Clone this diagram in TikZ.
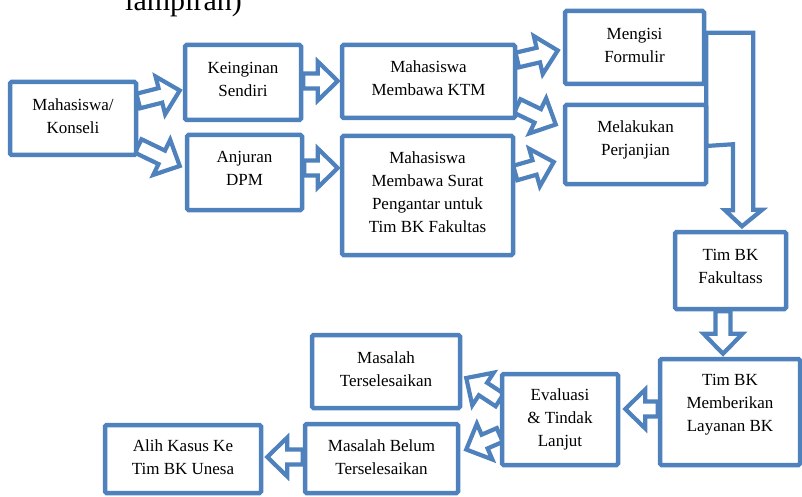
\documentclass[tikz,border=0pt]{standalone}
\usepackage{fontspec}
\setmainfont{Liberation Serif}
\usetikzlibrary{calc,backgrounds}
\definecolor{bblue}{RGB}{79,129,189}
\newcommand\arrsw{7.5pt}
\newcommand\arrhw{19.5pt}
\newcommand\arrhl{20pt}
\newcommand\barrow[2]{%
  \coordinate (ba-s) at (#1);
  \coordinate (ba-e) at (#2);
  \coordinate (ba-h) at ($(ba-e)!\arrhl!(ba-s)$);
  \draw[barr] ($(ba-s)!\arrsw!90:(ba-e)$) -- ($(ba-h)!\arrsw!90:(ba-e)$)
    -- ($(ba-h)!\arrhw!90:(ba-e)$) -- (ba-e) -- ($(ba-h)!\arrhw!-90:(ba-e)$)
    -- ($(ba-h)!\arrsw!-90:(ba-e)$) -- ($(ba-s)!\arrsw!-90:(ba-e)$) -- cycle;}
\begin{document}
\begin{tikzpicture}[x=1pt,y=-1pt,
  box/.style={draw=bblue, line width=4.5pt, fill=white, rounded corners=1.5pt, inner sep=0pt},
  txt/.style={draw=none, fill=none, align=center, font=\fontsize{17}{23}\selectfont, text=black, inner sep=0pt},
  barr/.style={draw=bblue, line width=4.2pt, fill=white, line join=miter}]
\useasboundingbox (0,0) rectangle (802,497);

\node[anchor=base west, inner sep=0pt, font=\fontsize{30}{36}\selectfont] (title) at (125,11) {lampiran)};

\node[box, minimum width=126, minimum height=73, label={[txt,yshift=2.5]center:{Mahasiswa/\\Konseli}}] (ms) at (73,118.5) {};
\node[box, minimum width=116, minimum height=75, label={[txt,yshift=3]center:{Keinginan\\Sendiri}}] (ks) at (243,82.5) {};
\node[box, minimum width=115, minimum height=75, label={[txt,yshift=4]center:{Anjuran\\DPM}}] (ad) at (244.5,172.5) {};
\node[box, minimum width=173, minimum height=73, label={[txt,yshift=3]center:{Mahasiswa\\Membawa KTM}}] (ktm) at (428.5,81.5) {};
\node[box, minimum width=171, minimum height=119, label={[txt,yshift=3]center:{Mahasiswa\\Membawa Surat\\Pengantar untuk\\Tim BK Fakultas}}] (sur) at (427.5,195.5) {};
\node[box, minimum width=139, minimum height=73, label={[txt,yshift=2.5]center:{Mengisi\\Formulir}}] (mf) at (634.5,47.5) {};
\node[box, minimum width=141, minimum height=79, label={[txt,yshift=5]center:{Melakukan\\Perjanjian}}] (mp) at (635.5,144.5) {};
\node[box, minimum width=111, minimum height=77, label={[txt,yshift=4]center:{Tim BK\\Fakultass}}] (fak) at (730.5,270.5) {};
\node[box, minimum width=140, minimum height=106, label={[txt,yshift=7]center:{Tim BK\\Memberikan\\Layanan BK}}] (lay) at (730,412) {};
\node[box, minimum width=116, minimum height=91, label={[txt,yshift=0]center:{Evaluasi\\\&{} Tindak\\Lanjut}}] (ev) at (560,419.5) {};
\node[box, minimum width=148, minimum height=73, label={[txt,yshift=2.5]center:{Masalah\\Terselesaikan}}] (mt) at (386,371.5) {};
\node[box, minimum width=153, minimum height=69, label={[txt,yshift=1]center:{Masalah Belum\\Terselesaikan}}] (mb) at (381.5,458.5) {};
\node[box, minimum width=156, minimum height=68, label={[txt,yshift=1.5]center:{Alih Kasus Ke\\Tim BK Unesa}}] (ak) at (183,459) {};

\begin{scope}[on background layer]
\barrow{$(ms.east)+(0,-17.5)$}{$(ks.west)+(-3,8)$}
\barrow{$(ms.east)+(0,27.5)$}{$(ad.west)+(-5,-6.5)$}
\barrow{$(ks.east)+(0,-1.5)$}{$(ktm.west)+(-2,-0.5)$}
\barrow{$(ad.east)+(0,-4.5)$}{$(sur.west)+(-2,-27.5)$}
\barrow{$(ktm.east)+(0,-21.5)$}{$(mf.west)+(-5,3)$}
\barrow{$(ktm.east)+(0,24.5)$}{$(mp.west)+(-7,-20)$}
\barrow{$(sur.east)+(0,-22.5)$}{$(mp.west)+(-9,17.5)$}
\barrow{$(fak.south)+(-7.5,0)$}{$(lay.north)+(-7,-3)$}
\barrow{$(lay.west)+(0,-3)$}{$(ev.east)+(5,-10.5)$}
\barrow{$(ev.west)+(0,-19.5)$}{$(mt.east)+(4,6.5)$}
\barrow{$(ev.west)+(0,15.5)$}{$(mb.east)+(6,-9)$}
\barrow{$(mb.west)+(0,-1.5)$}{$(ak.east)+(4,-2)$}
% bent arrow from Mengisi Formulir / Melakukan Perjanjian to Tim BK Fakultass
\draw[barr] ($(mf.north east)+(0,24)$) coordinate (b1) -- ++(47,0) -- ++(0,177) -- ++(9,0)
  -- ($(fak.north)+(11.5,-3.5)$) coordinate (b2) -- ++(-17,-16) -- ++(8,0) -- ++(0,-66) -- (b1 |- 0,146) -- cycle;
\end{scope}
\end{tikzpicture}
\end{document}
